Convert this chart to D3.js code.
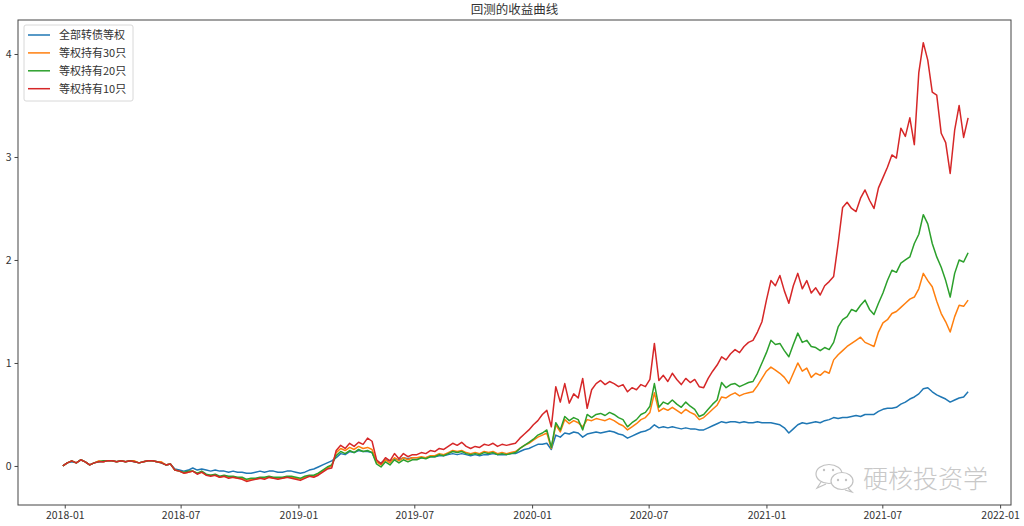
<!DOCTYPE html>
<html><head><meta charset="utf-8">
<script src="https://cdn.jsdelivr.net/npm/d3@7/dist/d3.min.js"></script>
<style>
body{margin:0;background:#fff}
svg{display:block}
text{font-family:"Noto Sans CJK SC","Noto Sans",sans-serif}
</style>
</head><body>
<svg id="chart" width="1024" height="526"></svg>
<script>
const title = "回测的收益曲线";
const seriesNames = ["全部转债等权", "等权持有30只", "等权持有20只", "等权持有10只"];
const seriesColors = ["#1f77b4", "#ff7f0e", "#2ca02c", "#d62728"];
const startDate = "2017-12-29"; // weekly observations
const xTickLabels = ["2018-01","2018-07","2019-01","2019-07","2020-01","2020-07","2021-01","2021-07","2022-01"];
const yTickValues = [0, 1, 2, 3, 4];
const watermark = "硬核投资学";

const allBonds = [
0.00,0.03,0.04,0.03,0.06,0.04,0.01,0.03,0.04,0.04,0.05,0.05,0.04,0.05,0.04,0.05,0.04,0.03,0.04,0.05,0.05,0.04,0.03,0.01,0.02,-0.03,-0.04,
-0.05,-0.04,-0.02,-0.04,-0.03,-0.04,-0.05,-0.04,-0.05,-0.05,-0.06,-0.05,-0.06,-0.06,-0.07,-0.07,-0.06,-0.05,-0.06,-0.05,-0.05,-0.06,-0.06,-0.05,-0.05,-0.06,-0.07,-0.06,-0.04,-0.03,-0.01,0.01,0.03,0.05,
0.08,0.12,0.11,0.14,0.13,0.15,0.14,0.14,0.13,0.04,0.03,0.06,0.05,0.07,0.06,0.08,0.07,0.08,
0.08,0.08,0.08,0.09,0.09,0.10,0.10,0.11,0.12,0.11,0.12,0.11,0.10,0.11,0.10,0.11,0.11,0.12,0.11,0.11,0.11,0.12,0.12,0.14,0.16,0.17,0.19,0.21,0.21,0.22,0.16,
0.30,0.28,0.32,0.31,0.33,0.32,0.28,0.31,0.32,0.33,0.32,0.33,0.34,0.33,0.31,0.30,0.27,0.29,0.31,0.33,0.34,0.36,0.40,0.37,0.38,0.37,0.38,0.37,0.36,0.37,0.36,0.36,0.35,0.35,0.37,0.39,0.41,0.43,0.42,0.43,0.43,0.42,0.43,0.42,0.42,0.43,0.42,
0.42,0.42,0.41,0.40,0.37,0.32,0.36,0.40,0.42,0.41,0.42,0.43,0.42,0.44,0.45,0.47,0.46,0.47,0.47,0.48,0.49,0.48,0.50,0.50,0.50,0.53,0.55,0.56,0.56,0.57,0.60,0.62,0.65,0.67,0.70,0.75,0.76,0.72,0.69,0.67,0.65,0.62,0.64,0.66,0.67,0.72
];
const hold30 = [
0.00,0.03,0.05,0.03,0.06,0.04,0.01,0.03,0.05,0.04,0.05,0.05,0.04,0.05,0.04,0.05,0.05,0.03,0.04,0.05,0.05,0.04,0.04,0.01,0.02,-0.04,-0.05,
-0.07,-0.06,-0.05,-0.07,-0.06,-0.09,-0.09,-0.09,-0.11,-0.10,-0.11,-0.11,-0.12,-0.12,-0.14,-0.13,-0.13,-0.12,-0.12,-0.11,-0.12,-0.12,-0.12,-0.11,-0.11,-0.12,-0.13,-0.11,-0.10,-0.10,-0.08,-0.05,-0.02,0.00,
0.13,0.17,0.15,0.18,0.16,0.19,0.17,0.18,0.16,0.04,0.01,0.06,0.03,0.08,0.05,0.08,0.06,0.08,
0.08,0.09,0.08,0.10,0.10,0.12,0.11,0.13,0.15,0.14,0.15,0.13,0.12,0.13,0.12,0.14,0.13,0.14,0.12,0.13,0.12,0.13,0.14,0.17,0.20,0.22,0.25,0.28,0.30,0.32,0.17,
0.40,0.33,0.45,0.41,0.44,0.42,0.38,0.45,0.44,0.46,0.45,0.44,0.46,0.44,0.41,0.39,0.35,0.38,0.41,0.45,0.47,0.52,0.71,0.53,0.56,0.54,0.57,0.54,0.51,0.55,0.52,0.50,0.45,0.47,0.51,0.55,0.59,0.67,0.66,0.69,0.71,0.68,0.70,0.71,0.72,0.78,0.85,
0.92,0.96,0.93,0.90,0.86,0.80,0.90,1.00,0.92,0.95,0.86,0.90,0.88,0.92,0.90,1.03,1.08,1.12,1.16,1.19,1.22,1.25,1.20,1.18,1.16,1.30,1.39,1.42,1.48,1.50,1.54,1.58,1.62,1.64,1.72,1.87,1.80,1.74,1.60,1.48,1.40,1.30,1.45,1.56,1.55,1.61
];
const hold20 = [
0.00,0.03,0.05,0.03,0.06,0.04,0.01,0.03,0.04,0.05,0.05,0.05,0.04,0.05,0.04,0.05,0.04,0.03,0.04,0.05,0.05,0.04,0.03,0.01,0.02,-0.04,-0.05,
-0.06,-0.05,-0.05,-0.07,-0.05,-0.08,-0.09,-0.08,-0.10,-0.09,-0.10,-0.10,-0.11,-0.11,-0.13,-0.12,-0.12,-0.11,-0.11,-0.10,-0.11,-0.11,-0.11,-0.10,-0.10,-0.11,-0.12,-0.10,-0.09,-0.09,-0.07,-0.04,-0.01,0.01,
0.10,0.14,0.12,0.15,0.13,0.16,0.14,0.15,0.13,0.02,-0.01,0.04,0.01,0.06,0.03,0.06,0.04,0.06,
0.06,0.08,0.07,0.09,0.09,0.11,0.10,0.12,0.14,0.13,0.14,0.12,0.11,0.12,0.11,0.13,0.12,0.13,0.11,0.12,0.11,0.12,0.13,0.17,0.20,0.23,0.26,0.30,0.32,0.35,0.18,
0.42,0.35,0.48,0.44,0.47,0.45,0.35,0.50,0.47,0.50,0.51,0.49,0.52,0.50,0.47,0.45,0.38,0.42,0.45,0.50,0.52,0.58,0.80,0.57,0.62,0.60,0.64,0.60,0.57,0.62,0.58,0.55,0.48,0.50,0.55,0.60,0.64,0.81,0.76,0.79,0.80,0.77,0.79,0.81,0.82,0.90,1.00,
1.10,1.22,1.18,1.19,1.12,1.06,1.18,1.29,1.20,1.22,1.16,1.15,1.12,1.15,1.13,1.20,1.35,1.42,1.45,1.52,1.50,1.56,1.61,1.52,1.47,1.58,1.68,1.80,1.90,1.88,1.97,2.00,2.03,2.16,2.25,2.44,2.35,2.16,2.03,1.93,1.80,1.64,1.87,2.00,1.98,2.07
];
const hold10 = [
0.00,0.03,0.05,0.03,0.06,0.04,0.01,0.03,0.04,0.04,0.05,0.05,0.04,0.05,0.04,0.05,0.04,0.03,0.04,0.05,0.05,0.04,0.03,0.01,0.02,-0.04,-0.05,
-0.07,-0.06,-0.05,-0.08,-0.06,-0.09,-0.10,-0.09,-0.11,-0.10,-0.12,-0.11,-0.12,-0.13,-0.15,-0.14,-0.13,-0.12,-0.13,-0.11,-0.12,-0.13,-0.12,-0.11,-0.12,-0.13,-0.14,-0.12,-0.10,-0.11,-0.09,-0.06,-0.03,-0.02,
0.15,0.20,0.17,0.22,0.19,0.23,0.21,0.27,0.24,0.06,0.02,0.08,0.05,0.12,0.07,0.12,0.09,0.11,
0.11,0.13,0.12,0.15,0.14,0.17,0.16,0.19,0.22,0.20,0.23,0.19,0.17,0.19,0.18,0.21,0.20,0.22,0.19,0.21,0.20,0.21,0.22,0.27,0.31,0.35,0.40,0.44,0.50,0.54,0.38,
0.77,0.62,0.80,0.61,0.70,0.66,0.85,0.56,0.74,0.80,0.83,0.79,0.82,0.80,0.77,0.79,0.72,0.76,0.74,0.79,0.77,0.84,1.19,0.83,0.88,0.82,0.90,0.84,0.79,0.85,0.81,0.84,0.77,0.76,0.85,0.92,0.98,1.06,1.03,1.09,1.13,1.10,1.16,1.20,1.22,1.30,1.40,
1.61,1.80,1.75,1.85,1.70,1.58,1.75,1.87,1.72,1.80,1.68,1.73,1.66,1.75,1.79,1.84,2.16,2.51,2.56,2.50,2.47,2.60,2.68,2.58,2.50,2.70,2.80,2.90,3.02,2.99,3.28,3.20,3.38,3.12,3.82,4.11,3.94,3.63,3.60,3.23,3.14,2.84,3.26,3.50,3.19,3.38
];
const seriesValues = [allBonds, hold30, hold20, hold10];

const parseDay = d3.timeParse("%Y-%m-%d");
const parseMonth = d3.timeParse("%Y-%m");
const start = parseDay(startDate);
const dates = hold10.map((_, i) => d3.timeDay.offset(start, 7 * i));

const svg = d3.select("#chart");
const mLeft = 18, mRight = 1011, mTop = 20, mBottom = 505;

const x = d3.scaleTime()
  .domain([parseDay("2017-10-20"), parseDay("2022-01-18")])
  .range([mLeft, mRight]);
const y = d3.scaleLinear().domain([-0.379, 4.33]).range([mBottom, mTop]);

// title
svg.append("text").attr("x", (mLeft + mRight) / 2).attr("y", 14)
  .attr("text-anchor", "middle").attr("font-size", 12.5).attr("fill", "#333").text(title);

// lines
const line = d3.line().x((d, i) => x(dates[i])).y(d => y(d));
seriesValues.forEach((vals, k) => {
  svg.append("path").datum(vals).attr("d", line)
    .attr("fill", "none").attr("stroke", seriesColors[k])
    .attr("stroke-width", 1.5).attr("stroke-linejoin", "round");
});

// watermark
const wm = svg.append("g").attr("fill", "none").attr("stroke", "#c2c2c2").attr("stroke-width", 1.2);
wm.append("ellipse").attr("cx", 829).attr("cy", 474).attr("rx", 13).attr("ry", 9.5);
wm.append("path").attr("d", "M821,482 L817,488 L826,484");
wm.append("ellipse").attr("cx", 842).attr("cy", 481).attr("rx", 11).attr("ry", 8.5).attr("fill", "#fff");
wm.append("path").attr("d", "M848,488 L852,492 L845,490").attr("fill", "#fff");
[[824,470],[833,470],[838,480],[846,480]].forEach(p =>
  wm.append("circle").attr("cx", p[0]).attr("cy", p[1]).attr("r", 1.2).attr("fill", "#c2c2c2").attr("stroke", "none"));
svg.append("text").attr("x", 863).attr("y", 488).attr("font-size", 25).attr("font-weight", 300)
  .attr("fill", "#c8c8c8").text(watermark);

// axes
const xAxis = d3.axisBottom(x).tickValues(xTickLabels.map(parseMonth))
  .tickFormat(d3.timeFormat("%Y-%m")).tickSize(3.5).tickPadding(3);
const gx = svg.append("g").attr("transform", `translate(0,${mBottom})`).call(xAxis);
const yAxis = d3.axisLeft(y).tickValues(yTickValues).tickFormat(d3.format("d")).tickSize(3.5).tickPadding(3);
const gy = svg.append("g").attr("transform", `translate(${mLeft},0)`).call(yAxis);
[gx, gy].forEach(g => {
  g.select(".domain").remove();
  g.selectAll(".tick line").attr("stroke", "#444");
  g.selectAll(".tick text").attr("fill", "#333").attr("font-size", 10.5)
    .style("font-family", '"Noto Sans CJK SC","Noto Sans",sans-serif');
});

// frame
svg.append("rect").attr("x", mLeft).attr("y", mTop).attr("width", mRight - mLeft).attr("height", mBottom - mTop)
  .attr("fill", "none").attr("stroke", "#444").attr("stroke-width", 1);

// legend
const lg = svg.append("g");
lg.append("rect").attr("x", 24).attr("y", 25).attr("width", 109).attr("height", 76).attr("rx", 2)
  .attr("fill", "#fff").attr("fill-opacity", 0.8).attr("stroke", "#d8d8d8");
seriesNames.forEach((name, k) => {
  const yy = 35 + k * 17.9;
  lg.append("line").attr("x1", 28).attr("x2", 50).attr("y1", yy).attr("y2", yy)
    .attr("stroke", seriesColors[k]).attr("stroke-width", 1.5);
  lg.append("text").attr("x", 59).attr("y", yy + 4).attr("font-size", 11).attr("fill", "#333").text(name);
});
</script>
</body></html>
